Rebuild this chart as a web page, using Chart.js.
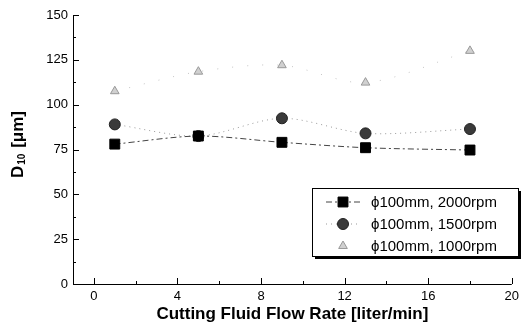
<!DOCTYPE html>
<html>
<head>
<meta charset="utf-8">
<script src="https://cdn.jsdelivr.net/npm/chart.js@4/dist/chart.umd.min.js"></script>
<style>
  body { margin: 0; background: #fff; }
  canvas { display: block; }
</style>
</head>
<body>
<canvas id="c" width="524" height="329"></canvas>
<script>
// data
const flowRates = [1, 5, 9, 13, 18];
const rpm2000 = [78, 82.5, 79, 76, 74.7];
const rpm1500 = [89, 82.5, 92.4, 84, 86.4];
const rpm1000 = [107.5, 118.4, 122, 112.3, 130];
const seriesLabels = ["\u03d5100mm, 2000rpm", "\u03d5100mm, 1500rpm", "\u03d5100mm, 1000rpm"];
const xTickLabels = [0, 4, 8, 12, 16, 20];
const yTickLabels = [0, 25, 50, 75, 100, 125, 150];

const FONT = "'Liberation Sans', Arial, sans-serif";

function pts(ys) {
  return flowRates.map((x, i) => ({ x: x, y: ys[i] }));
}

// axis lines and ticks drawn inward, like the original
const inwardTicks = {
  id: "inwardTicks",
  afterDraw(chart) {
    const ctx = chart.ctx;
    const a = chart.chartArea;
    const xs = chart.scales.x, ys = chart.scales.y;
    ctx.save();
    ctx.strokeStyle = "#000";
    ctx.lineWidth = 1;
    ctx.beginPath();
    ctx.moveTo(a.left + 0.5, a.top);
    ctx.lineTo(a.left + 0.5, a.bottom + 0.5);
    ctx.lineTo(a.right, a.bottom + 0.5);
    ctx.stroke();
    xs.ticks.forEach(t => {
      const px = Math.round(xs.getPixelForValue(t.value)) + 0.5;
      const len = xTickLabels.includes(t.value) ? 6 : 3;
      ctx.beginPath();
      ctx.moveTo(px, a.bottom);
      ctx.lineTo(px, a.bottom - len);
      ctx.stroke();
    });
    ys.ticks.forEach(t => {
      const py = Math.round(ys.getPixelForValue(t.value)) + 0.5;
      const len = yTickLabels.includes(t.value) ? 6 : 3;
      ctx.beginPath();
      ctx.moveTo(a.left, py);
      ctx.lineTo(a.left + len, py);
      ctx.stroke();
    });

    // y title with subscript: D10 [um]
    ctx.translate(18, 145);
    ctx.rotate(-Math.PI / 2);
    ctx.fillStyle = "#000";
    ctx.textBaseline = "middle";
    const big = "bold 17px " + FONT, small = "bold 10px " + FONT;
    ctx.font = big;
    const wD = ctx.measureText("D").width;
    const wRest = ctx.measureText(" [\u03bcm]").width;
    ctx.font = small;
    const wSub = ctx.measureText("10").width + 1;
    let x = -(wD + wSub + wRest) / 2;
    ctx.font = big;
    ctx.fillText("D", x, 0);
    x += wD + 1;
    ctx.font = small;
    ctx.fillText("10", x, 4);
    x += wSub;
    ctx.font = big;
    ctx.fillText(" [\u03bcm]", x, 0);
    ctx.restore();
  }
};

// boxed legend with shadow inside the plot
const boxLegend = {
  id: "boxLegend",
  afterDraw(chart) {
    const ctx = chart.ctx;
    const bx = 312, by = 188, bw = 206, bh = 68;
    ctx.save();
    ctx.fillStyle = "#000";
    ctx.fillRect(bx + 3, by + 3, bw, bh);
    ctx.fillStyle = "#fff";
    ctx.fillRect(bx, by, bw, bh);
    ctx.strokeStyle = "#000";
    ctx.lineWidth = 1;
    ctx.strokeRect(bx + 0.5, by + 0.5, bw, bh);
    chart.data.datasets.forEach((ds, i) => {
      const y = by + 14 + i * 22;
      if (ds.showLegendLine) {
        ctx.save();
        ctx.strokeStyle = ds.borderColor;
        ctx.lineWidth = ds.borderWidth;
        ctx.setLineDash(ds.borderDash || []);
        ctx.beginPath();
        ctx.moveTo(326, y);
        ctx.lineTo(360, y);
        ctx.stroke();
        ctx.restore();
      }
      ctx.fillStyle = ds.pointBackgroundColor;
      ctx.strokeStyle = ds.pointBorderColor;
      ctx.lineWidth = 1;
      Chart.helpers.drawPoint(ctx, { pointStyle: ds.pointStyle, radius: ds.pointRadius, borderWidth: 1 }, 343, y);
      ctx.fillStyle = "#000";
      ctx.font = "15px " + FONT;
      ctx.textBaseline = "middle";
      ctx.fillText(seriesLabels[i], 371, y + 1);
    });
    ctx.restore();
  }
};

new Chart(document.getElementById("c"), {
  type: "line",
  data: {
    datasets: [
      {
        label: seriesLabels[0],
        data: pts(rpm2000),
        borderColor: "#444",
        borderWidth: 1,
        borderDash: [6, 3, 2, 3],
        pointStyle: "rect",
        pointRadius: 7,
        pointBackgroundColor: "#000",
        pointBorderColor: "#000",
        tension: 0.3,
        showLegendLine: true
      },
      {
        label: seriesLabels[1],
        data: pts(rpm1500),
        borderColor: "#999",
        borderWidth: 1,
        borderDash: [1, 4],
        pointStyle: "circle",
        pointRadius: 5.5,
        pointBackgroundColor: "#3a3a3a",
        pointBorderColor: "#222",
        tension: 0.3,
        showLegendLine: true
      },
      {
        label: seriesLabels[2],
        data: pts(rpm1000),
        borderColor: "#c4c4c4",
        borderWidth: 1,
        borderDash: [1, 14],
        pointStyle: "triangle",
        pointRadius: 5,
        pointBackgroundColor: "#d0d0d0",
        pointBorderColor: "#999",
        tension: 0.3,
        showLegendLine: false
      }
    ]
  },
  options: {
    responsive: false,
    animation: false,
    layout: { padding: { top: 15, right: 11, left: 0, bottom: 0 } },
    plugins: {
      legend: { display: false },
      tooltip: { enabled: false }
    },
    scales: {
      x: {
        type: "linear",
        min: -1,
        max: 20,
        afterBuildTicks(scale) {
          const t = [];
          for (let v = 0; v <= 20; v += 2) t.push({ value: v });
          scale.ticks = t;
        },
        afterFit(scale) { scale.height = 45; },
        grid: { display: false, drawTicks: false, tickLength: 0 },
        border: { display: false },
        ticks: {
          color: "#000",
          font: { family: FONT, size: 13 },
          padding: 5,
          autoSkip: false,
          maxRotation: 0,
          callback: v => xTickLabels.includes(v) ? String(v) : ""
        },
        title: {
          display: true,
          text: "Cutting Fluid Flow Rate [liter/min]",
          color: "#000",
          font: { family: FONT, size: 17, weight: "bold" },
          padding: { top: 0, bottom: 4 }
        }
      },
      y: {
        min: 0,
        max: 150,
        afterBuildTicks(scale) {
          const t = [];
          for (let v = 0; v <= 150; v += 12.5) t.push({ value: v });
          scale.ticks = t;
        },
        afterFit(scale) { scale.width = 73; },
        grid: { display: false, drawTicks: false, tickLength: 0 },
        border: { display: false },
        ticks: {
          color: "#000",
          font: { family: FONT, size: 13 },
          padding: 5,
          autoSkip: false,
          callback: v => yTickLabels.includes(v) ? String(v) : ""
        }
      }
    }
  },
  plugins: [inwardTicks, boxLegend]
});
</script>
</body>
</html>
